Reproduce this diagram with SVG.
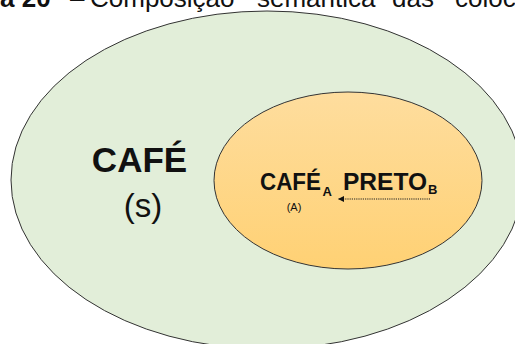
<svg xmlns="http://www.w3.org/2000/svg" width="515" height="344" viewBox="0 0 515 344">
<defs>
<linearGradient id="g" x1="0" y1="0" x2="0" y2="1">
<stop offset="0" stop-color="#FEDD9E"/>
<stop offset="1" stop-color="#FFD174"/>
</linearGradient>
<marker id="ah" markerWidth="7" markerHeight="7" refX="6" refY="3" orient="auto" markerUnits="userSpaceOnUse">
<path d="M0,0 L6,3 L0,6 z" fill="#111"/>
</marker>
<style>
text{font-family:"Liberation Sans",Arial,sans-serif;fill:#111}
.b{font-weight:bold}
.e{stroke:#333;stroke-width:1}
</style>
</defs>
<text y="7" font-size="26"><tspan x="0" class="b">a 20</tspan><tspan x="70">–</tspan><tspan x="90">Composição</tspan><tspan x="257">semântica</tspan><tspan x="392">das</tspan><tspan x="455">colocações</tspan></text>
<g id="outer">
<ellipse class="e" cx="267" cy="180" rx="256" ry="169" fill="#E2EED9"/>
<text x="139.5" y="172" font-size="35" class="b" text-anchor="middle">CAFÉ</text>
<text x="143" y="217" font-size="33" text-anchor="middle">(s)</text>
</g>
<g id="inner">
<ellipse class="e" cx="348" cy="180.5" rx="134" ry="88.5" fill="url(#g)"/>
<text x="260" y="190" font-size="23" class="b" textLength="61" lengthAdjust="spacingAndGlyphs">CAFÉ</text>
<text x="322.5" y="196" font-size="13" class="b">A</text>
<text x="343" y="190" font-size="23.5" class="b" textLength="84" lengthAdjust="spacingAndGlyphs">PRETO</text>
<text x="428" y="194" font-size="13" class="b">B</text>
<text x="294" y="211" font-size="11" text-anchor="middle" fill="#333">(A)</text>
</g>
<g id="connectors">
<line x1="430" y1="199" x2="338" y2="199" stroke="#222" stroke-width="1.2" stroke-dasharray="1.2 1" marker-end="url(#ah)"/>
</g>
</svg>
